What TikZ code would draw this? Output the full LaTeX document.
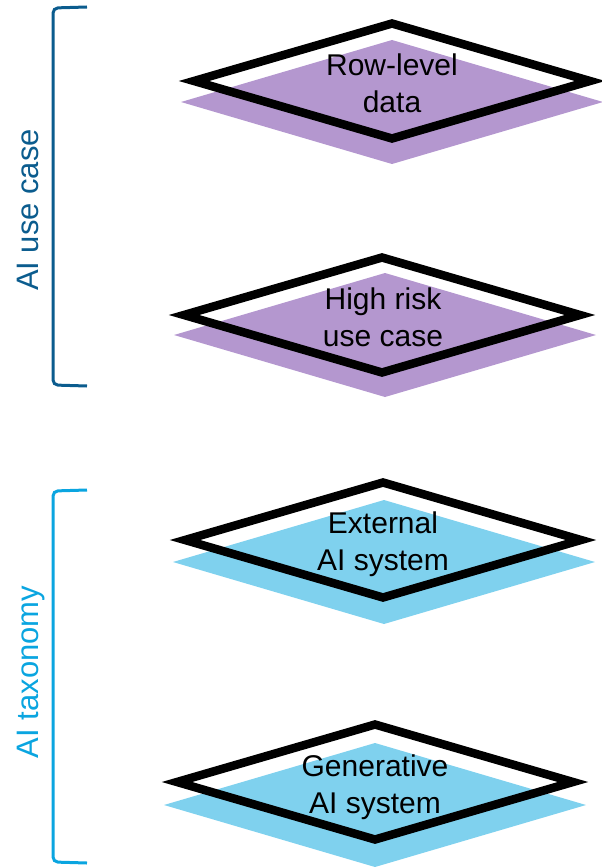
\documentclass[tikz,border=0pt]{standalone}
\usepackage{fontspec}
\setmainfont{Liberation Sans}
\definecolor{purp}{HTML}{B497CF}
\definecolor{sky}{HTML}{7FD1EE}
\definecolor{navyb}{HTML}{0B5C8E}
\definecolor{cyanb}{HTML}{0AA5E0}
\begin{document}
\begin{tikzpicture}[x=1pt,y=-1pt,
  layerfill/.style={fill=#1},
  outline/.style={draw=black,line width=8.5pt,miter limit=10,line join=miter},
  lbl/.style={font=\fontsize{30}{37}\selectfont,align=center,anchor=base,inner sep=0pt},
  sidelbl/.style={font=\fontsize{31}{37}\selectfont,rotate=90,anchor=base,inner sep=0pt},
  bracket/.style={line width=3pt,rounded corners=5pt}]
\useasboundingbox (0,0) rectangle (602,867);
% layers: fill centre, outline centre
\foreach \fx/\fy/\ox/\oy/\col in {392/102/392/81/purp, 385/335/382/315/purp, 384/562/383/540/sky, 375/805/375/782/sky}{
  \fill[layerfill=\col] (\fx,\fy) ++(-211,0) -- ++(211,-62) -- ++(211,62) -- ++(-211,62) -- cycle;
  \draw[outline] (\ox,\oy) ++(-198,0) -- ++(198,-57.5) -- ++(198,57.5) -- ++(-198,57.5) -- cycle;
}
% labels, anchored at the baseline of their last line
\node[lbl] (rowlevel) at (392,112) {Row-level\\data};
\node[lbl] (highrisk) at (383,346) {High risk\\use case};
\node[lbl] (external) at (383,570) {External\\AI system};
\node[lbl] (generative) at (375,813) {Generative\\AI system};
% brackets
\draw[bracket,navyb] (87,7) -- (53,8) -- (53,385) -- (87,386);
\draw[bracket,cyanb] (87,490) -- (53,491) -- (53,862) -- (87,863);
\node[sidelbl,text=navyb] (usecase) at (38,210) {AI use case};
\node[sidelbl,text=cyanb] (taxonomy) at (38,672) {AI taxonomy};
\end{tikzpicture}
\end{document}
